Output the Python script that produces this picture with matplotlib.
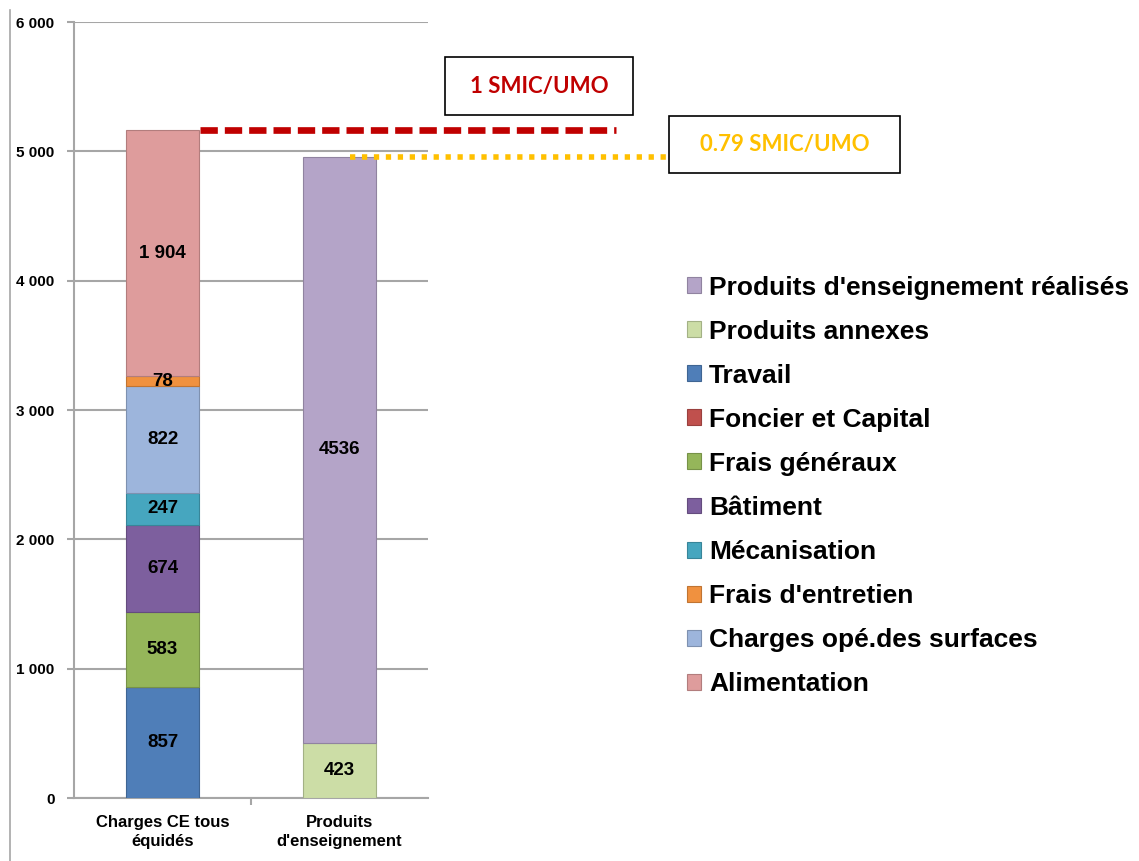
import matplotlib.pyplot as plt
from matplotlib.patches import Rectangle
from matplotlib.lines import Line2D
from matplotlib.ticker import FuncFormatter
import matplotlib.colors as mc
import numpy as np

#==================================================================================
#                                   Data
#==================================================================================
categories = ["Charges CE tous\néquidés", "Produits\nd'enseignement"]

# charges (first bar), stacked bottom -> top
charge_names = ["Travail", "Foncier et Capital", "Frais généraux", "Bâtiment",
                "Mécanisation", "Charges opé.des surfaces", "Frais d'entretien",
                "Alimentation"]
charge_values = [857, 0, 583, 674, 247, 822, 78, 1904]

# produits (second bar), stacked bottom -> top
produit_names = ["Produits annexes", "Produits d'enseignement réalisés"]
produit_values = [423, 4536]

legend_order = ["Produits d'enseignement réalisés", "Produits annexes", "Travail",
                "Foncier et Capital", "Frais généraux", "Bâtiment", "Mécanisation",
                "Frais d'entretien", "Charges opé.des surfaces", "Alimentation"]

smic_labels = ["1 SMIC/UMO", "0.79 SMIC/UMO"]

colors = {
    "Travail": "#4F7EB8",
    "Foncier et Capital": "#C0504D",
    "Frais généraux": "#95B65A",
    "Bâtiment": "#7D5F9E",
    "Mécanisation": "#46A6BF",
    "Charges opé.des surfaces": "#9DB5DC",
    "Frais d'entretien": "#F0913F",
    "Alimentation": "#DE9C9C",
    "Produits annexes": "#CCDDA6",
    "Produits d'enseignement réalisés": "#B4A4C8",
}

#==================================================================================
#                                   Figure
#==================================================================================
W, H = 1139, 861
fig = plt.figure(figsize=(W / 100, H / 100), dpi=100)
ax = fig.add_axes([74 / W, 1 - 798 / H, (428 - 74) / W, (798 - 22) / H])

bold = dict(family="Liberation Sans", weight="bold")
grid_col = "#A6A6A6"
bar_w = 0.41

def darker(c, f=0.8):
    r, g, b = mc.to_rgb(c)
    return (r * f, g * f, b * f)

handles = {}
bottom = 0
for name, v in zip(charge_names, charge_values):
    b = ax.bar(0, v, bar_w, bottom=bottom, color=colors[name],
               edgecolor=darker(colors[name]), linewidth=0.8, zorder=3)
    handles[name] = b
    if v > 0:
        ax.text(0, bottom + v / 2, f"{v:,}".replace(",", " "), ha="center",
                va="center", fontsize=13.5, zorder=4, **bold)
    bottom += v
charge_total = bottom

bottom = 0
for name, v in zip(produit_names, produit_values):
    b = ax.bar(1, v, bar_w, bottom=bottom, color=colors[name],
               edgecolor=darker(colors[name]), linewidth=0.8, zorder=3)
    handles[name] = b
    ax.text(1, bottom + v / 2, str(v), ha="center", va="center",
            fontsize=13.5, zorder=4, **bold)
    bottom += v
produit_total = bottom

# axes styling
ax.set_xlim(-0.5, 1.5)
ax.set_ylim(0, 6000)
ax.set_yticks(np.arange(0, 6001, 1000))
ax.yaxis.set_major_formatter(FuncFormatter(lambda v, p: f"{int(v):,}".replace(",", " ")))
ax.grid(axis="y", color=grid_col, linewidth=1.5, zorder=0)
for s in ["top", "right"]:
    ax.spines[s].set_visible(False)
for s in ["left", "bottom"]:
    ax.spines[s].set_color(grid_col)
    ax.spines[s].set_linewidth(1.5)
ax.tick_params(axis="y", length=5, width=1.5, color=grid_col, pad=9)
ax.set_xticks([0, 1])
ax.set_xticklabels(categories)
ax.tick_params(axis="x", length=0, pad=12)
ax.set_xticks([0.5], minor=True)
ax.tick_params(axis="x", which="minor", length=5, width=1.5, color=grid_col)
for lbl in ax.get_yticklabels():
    lbl.set_fontfamily("Liberation Sans")
    lbl.set_fontweight("bold")
    lbl.set_fontsize(11)
for lbl in ax.get_xticklabels():
    lbl.set_fontfamily("Liberation Sans")
    lbl.set_fontweight("bold")
    lbl.set_fontsize(12)
    lbl.set_linespacing(1.35)

# SMIC reference lines
ax.plot([0.212, 2.56], [charge_total, charge_total], color="#C00000", lw=4.8,
        ls=(0, (2.6, 1.05)), clip_on=False, zorder=5, dash_capstyle="butt")
ax.plot([1.06, 2.87], [produit_total, produit_total], color="#FFC000", lw=4,
        ls=(0, (0.95, 1.2)), clip_on=False, zorder=5, dash_capstyle="butt")

# SMIC boxes
boxes = [(445, 57, 633, 115, "#C00000"), (669, 116, 900, 173, "#FFC000")]
for (x0, y0, x1, y1, c), txt in zip(boxes, smic_labels):
    fig.add_artist(Rectangle((x0 / W, 1 - y1 / H), (x1 - x0) / W, (y1 - y0) / H,
                             transform=fig.transFigure, fill=False,
                             edgecolor="black", linewidth=1.2, zorder=6))
    fig.text((x0 + x1) / 2 / W, 1 - (y0 + y1) / 2 / H, txt, ha="center",
             va="center", color=c, fontsize=16, family="Lato", weight="bold")

# outer border line on the left
fig.add_artist(Line2D([10 / W, 10 / W], [0, 1 - 10 / H], transform=fig.transFigure,
                      color=grid_col, linewidth=1.2))

# legend
fig.legend([handles[n] for n in legend_order], legend_order, loc="upper left",
           bbox_to_anchor=(676 / W, 1 - 265 / H), frameon=False,
           prop=dict(family="Liberation Sans", weight="bold", size=19),
           handlelength=0.55, handleheight=0.55, handletextpad=0.3,
           labelspacing=0.76, borderaxespad=0)

fig.savefig("out.png", dpi=100)
